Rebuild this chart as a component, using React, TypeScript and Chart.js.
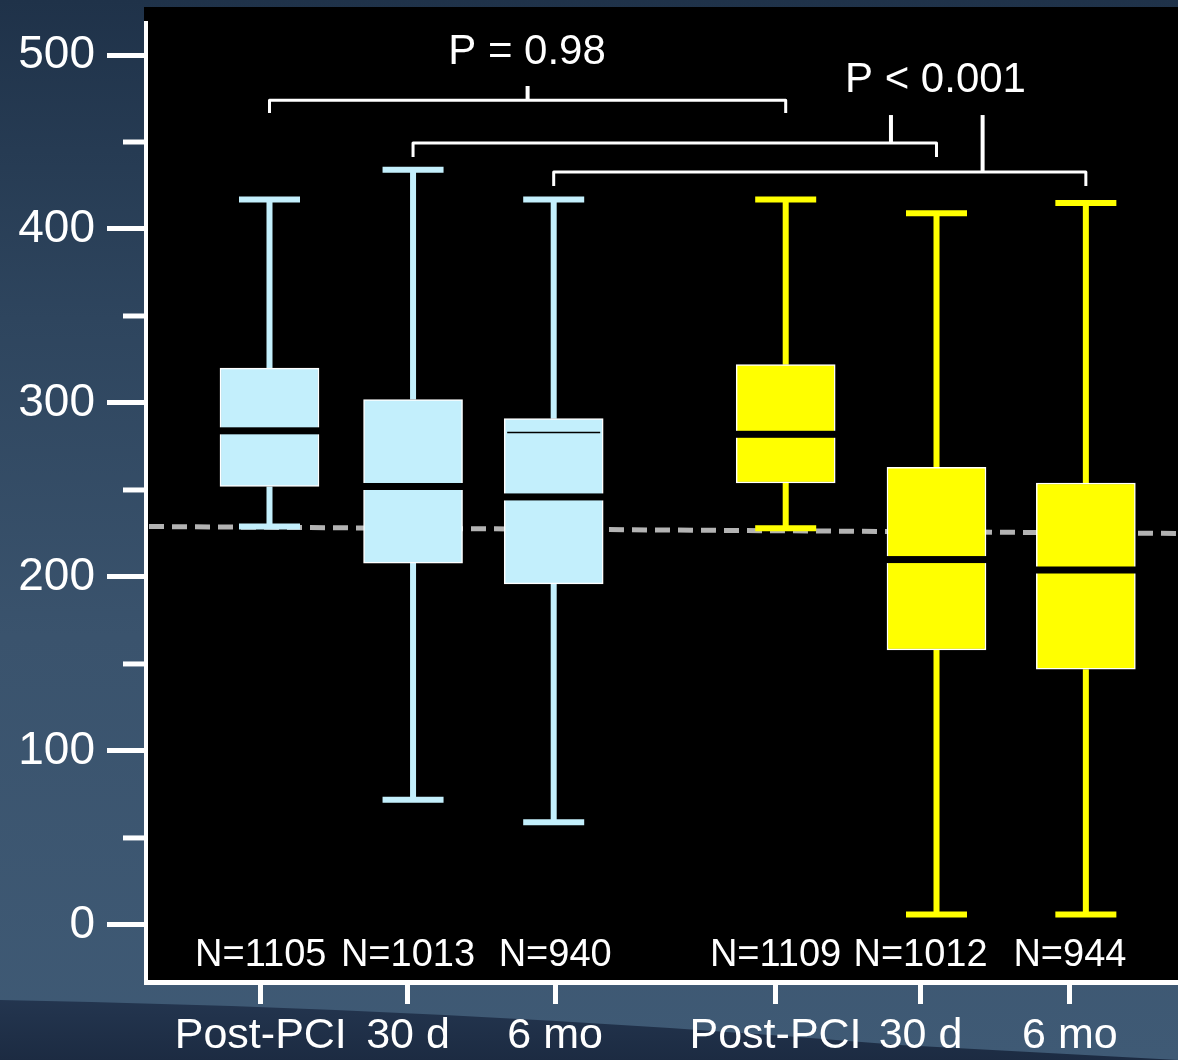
import React, { useEffect, useRef } from "react";
import { Chart, registerables } from "chart.js";

Chart.register(...registerables);

// ---------- data ----------
const categories = ["Post-PCI", "30 d", "6 mo", "Post-PCI", "30 d", "6 mo"];
const sampleSizes = ["N=1105", "N=1013", "N=940", "N=1109", "N=1012", "N=944"];
const categorySlots = [1, 1.99, 2.96, 4.56, 5.6, 6.63];
const tickSlots = [0.94, 1.955, 2.97, 4.49, 5.49, 6.52];
const whiskerHigh = [417, 434, 417, 417, 409, 415];
const upperQuartile = [320, 302, 291, 322, 263, 254];
const medianValues = [284, 252, 246, 282, 210, 204];
const lowerQuartile = [252, 208, 196, 254, 158, 147];
const whiskerLow = [229, 72, 59, 228, 6, 6];
const secondaryLine: (number | null)[] = [null, null, 283, null, null, null];
const boxColors = ["#c3effc", "#c3effc", "#c3effc", "#ffff00", "#ffff00", "#ffff00"];
const yTicks = [0, 100, 200, 300, 400, 500];
const yMinorTicks = [50, 150, 250, 350, 450];
const referenceLine = [229, 225];
const bracketFrom = [0, 1, 2];
const bracketTo = [3, 4, 5];
const bracketLevel = [474, 449.4, 432.8];
const bracketLegEnd = [466.7, 441.4, 424.7];
const bracketStemAt = [0.5, 0.913, 0.806];
const bracketStemTop = [482.2, 465.5, 465.5];
const pLabels = ["P = 0.98", "P < 0.001"];
const pLabelSlot = [2.776, 5.593];
const pLabelLevel = [501.7, 485.6];
const nLabelLevel = -17.5;

const Y_MIN = -32.8;
const Y_MAX = 518.4;
const X_MIN = 0.1483;
const X_MAX = 7.2655;

const FONT = "'Liberation Sans', Arial, sans-serif";

const boxPlugin = {
  id: "boxExtras",
  beforeDraw(chart: any) {
    const { ctx, width, height } = chart;
    ctx.save();
    const g = ctx.createLinearGradient(0, 0, 0, height);
    g.addColorStop(0, "#1f3249");
    g.addColorStop(0.3, "#2e455e");
    g.addColorStop(0.6, "#3a536d");
    g.addColorStop(1, "#3f5a75");
    ctx.fillStyle = g;
    ctx.fillRect(0, 0, width, height);
    // darker wave at the bottom
    const g2 = ctx.createLinearGradient(0, 995, 0, height);
    g2.addColorStop(0, "#243650");
    g2.addColorStop(1, "#1c2b42");
    ctx.fillStyle = g2;
    ctx.beginPath();
    ctx.moveTo(0, 1000);
    ctx.quadraticCurveTo(450, 1008, 900, 1045);
    ctx.lineTo(width, 1060);
    ctx.lineTo(0, height);
    ctx.closePath();
    ctx.fill();
    // black panel
    ctx.fillStyle = "#000000";
    ctx.fillRect(144, 7, width - 144, 978);
    ctx.restore();
  },
  beforeDatasetsDraw(chart: any) {
    const { ctx } = chart;
    const xs = chart.scales.x;
    const ys = chart.scales.y;
    const left = chart.chartArea.left;
    ctx.save();
    // minor y ticks
    ctx.strokeStyle = "#ffffff";
    ctx.lineWidth = 5;
    yMinorTicks.forEach((v) => {
      const y = ys.getPixelForValue(v);
      ctx.beginPath();
      ctx.moveTo(left - 23, y);
      ctx.lineTo(left, y);
      ctx.stroke();
    });
    // dashed reference line
    ctx.strokeStyle = "#b3b3b3";
    ctx.lineWidth = 5;
    ctx.setLineDash([15, 8]);
    ctx.beginPath();
    ctx.moveTo(xs.getPixelForValue(X_MIN) + 3, ys.getPixelForValue(referenceLine[0]));
    ctx.lineTo(xs.getPixelForValue(X_MAX), ys.getPixelForValue(referenceLine[1]));
    ctx.stroke();
    ctx.setLineDash([]);
    // whiskers
    categorySlots.forEach((s, i) => {
      const x = xs.getPixelForValue(s);
      ctx.strokeStyle = boxColors[i];
      ctx.lineWidth = 6;
      ctx.beginPath();
      ctx.moveTo(x, ys.getPixelForValue(upperQuartile[i]));
      ctx.lineTo(x, ys.getPixelForValue(whiskerHigh[i]));
      ctx.moveTo(x, ys.getPixelForValue(lowerQuartile[i]));
      ctx.lineTo(x, ys.getPixelForValue(whiskerLow[i]));
      ctx.stroke();
      ctx.beginPath();
      ctx.moveTo(x - 30.5, ys.getPixelForValue(whiskerHigh[i]));
      ctx.lineTo(x + 30.5, ys.getPixelForValue(whiskerHigh[i]));
      ctx.moveTo(x - 30.5, ys.getPixelForValue(whiskerLow[i]));
      ctx.lineTo(x + 30.5, ys.getPixelForValue(whiskerLow[i]));
      ctx.stroke();
    });
    // brackets
    ctx.strokeStyle = "#ffffff";
    ctx.lineJoin = "round";
    bracketFrom.forEach((f, i) => {
      const xa = xs.getPixelForValue(categorySlots[f]);
      const xb = xs.getPixelForValue(categorySlots[bracketTo[i]]);
      const yl = ys.getPixelForValue(bracketLevel[i]);
      const ye = ys.getPixelForValue(bracketLegEnd[i]);
      ctx.lineWidth = 3;
      ctx.beginPath();
      ctx.moveTo(xa, ye);
      ctx.lineTo(xa, yl);
      ctx.lineTo(xb, yl);
      ctx.lineTo(xb, ye);
      ctx.stroke();
      const xm = xa + (xb - xa) * bracketStemAt[i];
      ctx.lineWidth = 4;
      ctx.beginPath();
      ctx.moveTo(xm, yl);
      ctx.lineTo(xm, ys.getPixelForValue(bracketStemTop[i]));
      ctx.stroke();
    });
    // P labels
    ctx.fillStyle = "#ffffff";
    ctx.font = `42px ${FONT}`;
    ctx.textAlign = "center";
    ctx.textBaseline = "middle";
    pLabels.forEach((t, i) => {
      ctx.fillText(t, xs.getPixelForValue(pLabelSlot[i]), ys.getPixelForValue(pLabelLevel[i]));
    });
    ctx.restore();
  },
  afterDatasetsDraw(chart: any) {
    const { ctx } = chart;
    const xs = chart.scales.x;
    const ys = chart.scales.y;
    const meta = chart.getDatasetMeta(0);
    ctx.save();
    categorySlots.forEach((s, i) => {
      const bar = meta.data[i];
      const w = bar.width;
      const x = xs.getPixelForValue(s);
      const ym = ys.getPixelForValue(medianValues[i]);
      ctx.fillStyle = "#000000";
      ctx.fillRect(x - w / 2 - 1, ym - 3.5, w + 2, 7);
      const extra = secondaryLine[i];
      if (extra !== null) {
        const ye = ys.getPixelForValue(extra);
        ctx.strokeStyle = "#000000";
        ctx.lineWidth = 1.5;
        ctx.beginPath();
        ctx.moveTo(x - w / 2 + 3, ye);
        ctx.lineTo(x + w / 2 - 3, ye);
        ctx.stroke();
      }
    });
    ctx.fillStyle = "#ffffff";
    ctx.font = `38px ${FONT}`;
    ctx.textAlign = "center";
    ctx.textBaseline = "middle";
    sampleSizes.forEach((t, i) => {
      ctx.fillText(t, xs.getPixelForValue(tickSlots[i]), ys.getPixelForValue(nLabelLevel));
    });
    ctx.restore();
  },
};

export default function App() {
  const ref = useRef<HTMLCanvasElement>(null);
  useEffect(() => {
    document.body.style.margin = "0";
    const canvas = ref.current!;
    const chart = new Chart(canvas, {
      type: "bar",
      data: {
        datasets: [
          {
            data: categorySlots.map((s, i) => ({ x: s, y: [lowerQuartile[i], upperQuartile[i]] })) as any,
            backgroundColor: boxColors,
            borderColor: "#ffffff",
            borderWidth: 1.5,
            borderSkipped: false,
            barThickness: 99,
          },
        ],
      },
      plugins: [boxPlugin],
      options: {
        animation: false,
        responsive: false,
        devicePixelRatio: 1,
        events: [],
        layout: { padding: { top: 23, left: 0, right: 0, bottom: 0 } },
        plugins: { legend: { display: false }, tooltip: { enabled: false } },
        scales: {
          x: {
            type: "linear",
            offset: false,
            min: X_MIN,
            max: X_MAX,
            afterBuildTicks: (axis: any) => {
              axis.ticks = tickSlots.map((v) => ({ value: v }));
            },
            afterFit: (axis: any) => {
              axis.height = 78;
              axis.paddingLeft = 0;
              axis.paddingRight = 0;
            },
            ticks: {
              autoSkip: false,
              maxRotation: 0,
              minRotation: 0,
              padding: 6,
              color: "#ffffff",
              font: { family: FONT, size: 43 },
              callback: (_v: any, i: number) => categories[i],
            },
            grid: {
              offset: false,
              drawOnChartArea: false,
              drawTicks: true,
              tickLength: 22,
              tickWidth: 5,
              color: "#ffffff",
            },
            border: { display: true, color: "#ffffff", width: 5 },
          },
          y: {
            type: "linear",
            min: Y_MIN,
            max: Y_MAX,
            afterBuildTicks: (axis: any) => {
              axis.ticks = yTicks.map((v) => ({ value: v }));
            },
            afterFit: (axis: any) => {
              axis.width = 146;
              axis.paddingTop = 0;
              axis.paddingBottom = 0;
            },
            ticks: {
              padding: 12,
              color: "#ffffff",
              font: { family: FONT, size: 46 },
              callback: (v: any) => String(v),
            },
            grid: {
              drawOnChartArea: false,
              drawTicks: true,
              tickLength: 39,
              tickWidth: 5,
              color: "#ffffff",
            },
            border: { display: true, color: "#ffffff", width: 4 },
          },
        },
      } as any,
    });
    return () => chart.destroy();
  }, []);
  return (
    <div style={{ width: 1178, height: 1060, position: "relative", overflow: "hidden" }}>
      <canvas ref={ref} width={1178} height={1060} style={{ display: "block" }} />
    </div>
  );
}
